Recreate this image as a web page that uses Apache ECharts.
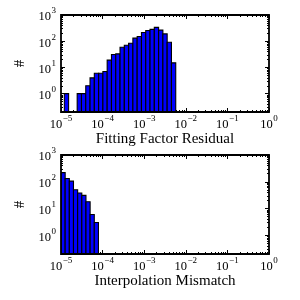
<!DOCTYPE html>
<html><head><meta charset="utf-8">
<script src="https://cdn.jsdelivr.net/npm/echarts@6/dist/echarts.min.js"></script>
<style>html,body{margin:0;padding:0;background:#fff}#c{width:300px;height:300px}</style>
</head><body><div id="c"></div>
<script>
// ---- data ----
// bin edges (log10 of x) and counts, top histogram
const fitEdgesLog = [-4.920, -4.817, -4.714, -4.611, -4.508, -4.405, -4.302, -4.199, -4.096, -3.993,
  -3.890, -3.787, -3.684, -3.581, -3.478, -3.375, -3.272, -3.169, -3.066, -2.963,
  -2.860, -2.757, -2.654, -2.551, -2.448, -2.345, -2.242];
const fitCounts = [1, 0, 0, 1, 1, 2, 4, 6, 6, 7, 19, 31, 33, 59, 70, 84, 131, 152, 215, 258, 282, 337, 265, 190, 91, 15];
// bottom histogram
const interpEdgesLog = [-5.0, -4.9, -4.8, -4.7, -4.6, -4.5, -4.4, -4.3, -4.2, -4.1];
const interpCounts = [220, 133, 106, 50, 38, 31, 18, 6, 3];

const xTickValues = [1e-5, 1e-4, 1e-3, 1e-2, 1e-1, 1];
const xTickExps = ['−5', '−4', '−3', '−2', '−1', '0'];
const yTickValues = [1, 10, 100, 1000];
const yTickExps = ['0', '1', '2', '3'];
const xMinorTicks = [];
for (let k = -5; k < 0; k++) for (let m = 2; m <= 9; m++) xMinorTicks.push(m * Math.pow(10, k));
const yMinorTicks = [];
for (let k = -1; k < 3; k++) for (let m = 2; m <= 9; m++) { const v = m * Math.pow(10, k); if (v >= 0.2) yMinorTicks.push(v); }

const titles = ['Fitting Factor Residual', 'Interpolation Mismatch'];
const X_MIN = 1e-5, X_MAX = 1, Y_MIN = 0.2, Y_MAX = 1000;

// ---- helpers ----
const FONT = 'Liberation Serif';
function fmt(vals, exps) {
  return function (v) {
    for (let i = 0; i < vals.length; i++) if (Math.abs(Math.log10(v) - Math.log10(vals[i])) < 1e-6) return '{b|10}{s|' + exps[i] + '}';
    return '';
  };
}
const rich = {
  b: { fontFamily: FONT, fontSize: 12.5, color: '#000', lineHeight: 17, verticalAlign: 'bottom' },
  s: { fontFamily: FONT, fontSize: 9, color: '#000', lineHeight: 17, verticalAlign: 'top', padding: [0, 0, 0, 0.5] }
};

const grids = [
  { left: 61, right: 31, top: 15, height: 97 },
  { left: 61, right: 31, top: 155, height: 99 }
];
const xAxes = [], yAxes = [], series = [];
function xa(g, pos, major, withLabel) {
  const a = {
    type: 'log', logBase: 10, gridIndex: g, position: pos, min: X_MIN, max: X_MAX,
    axisLine: { show: false }, splitLine: { show: false },
    axisTick: { show: true, inside: true, length: major ? 4 : 2, customValues: major ? xTickValues : xMinorTicks, lineStyle: { color: '#000', width: 1 } },
    axisLabel: { show: !!withLabel, customValues: xTickValues, formatter: fmt(xTickValues, xTickExps), rich: rich, margin: 2 }
  };
  if (withLabel) {
    a.name = titles[g]; a.nameLocation = 'middle'; a.nameGap = 13;
    a.nameTextStyle = { fontFamily: FONT, fontSize: 15, color: '#000', verticalAlign: 'top' };
  }
  xAxes.push(a); return xAxes.length - 1;
}
function ya(g, pos, major, withLabel) {
  const a = {
    type: 'log', logBase: 10, gridIndex: g, position: pos, min: Y_MIN, max: Y_MAX,
    axisLine: { show: false }, splitLine: { show: false },
    axisTick: { show: true, inside: true, length: major ? 4 : 2, customValues: major ? yTickValues : yMinorTicks, lineStyle: { color: '#000', width: 1 } },
    axisLabel: { show: !!withLabel, customValues: yTickValues, formatter: fmt(yTickValues, yTickExps), rich: rich, margin: 5 }
  };
  if (withLabel) {
    a.name = '#'; a.nameLocation = 'middle'; a.nameGap = 31; a.nameRotate = 90;
    a.nameTextStyle = { fontFamily: FONT, fontSize: 15, color: '#000' };
  }
  yAxes.push(a); return yAxes.length - 1;
}
function renderItem(params, api) {
  const lo = api.value(0), hi = api.value(1), n = api.value(2);
  if (!(n > 0)) return null;
  const p0 = api.coord([lo, n]);
  const p1 = api.coord([hi, Y_MIN]);
  return {
    type: 'rect',
    shape: { x: p0[0], y: p0[1], width: p1[0] - p0[0], height: p1[1] - p0[1] },
    style: { fill: '#0000ff', stroke: '#000', lineWidth: 1.1 }
  };
}
const sets = [[fitEdgesLog, fitCounts], [interpEdgesLog, interpCounts]];
sets.forEach(function (s, g) {
  const xi = xa(g, 'bottom', true, true);
  xa(g, 'bottom', false, false); xa(g, 'top', true, false); xa(g, 'top', false, false);
  const yi = ya(g, 'left', true, true);
  ya(g, 'left', false, false); ya(g, 'right', true, false); ya(g, 'right', false, false);
  const edges = s[0], counts = s[1];
  const data = [];
  for (let i = 0; i < counts.length; i++) if (counts[i] > 0) data.push([Math.pow(10, edges[i]), Math.pow(10, edges[i + 1]), counts[i]]);
  series.push({ type: 'custom', xAxisIndex: xi, yAxisIndex: yi, renderItem: renderItem, clip: true,
    encode: { x: [0, 1], y: 2 }, data: data, z: 1 });
});

const chart = echarts.init(document.getElementById('c'), null, { renderer: 'canvas' });
chart.setOption({
  animation: false,
  backgroundColor: '#fff',
  grid: grids.map(function (g) { return Object.assign({ show: true, borderColor: '#000', borderWidth: 1.8, backgroundColor: 'transparent', z: 3 }, g); }),
  xAxis: xAxes, yAxis: yAxes, series: series
});
</script></body></html>
